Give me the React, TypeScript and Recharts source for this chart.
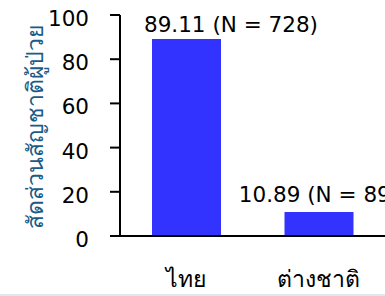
import React from "react";
import { BarChart, Bar, XAxis, YAxis, LabelList, Label } from "recharts";

const categories = ["ไทย", "ต่างชาติ"];
const percentages = [89.11, 10.89];
const counts = [728, 89];
const yTicks = [0, 20, 40, 60, 80, 100];
const yAxisTitle = "สัดส่วนสัญชาติผู้ป่วย";

const data = categories.map((c, i) => ({ name: c, value: percentages[i], n: counts[i] }));

const NUM_FONT = "'DejaVu Sans', Verdana, sans-serif";

const YTick = (props: any) => {
  const { x, y, payload } = props;
  return (
    <text x={x} y={y + 11} textAnchor="end" fontSize={21.5} fontFamily={NUM_FONT} fill="#000">
      {payload.value}
    </text>
  );
};

const XTick = (props: any) => {
  const { x, y, payload } = props;
  return (
    <text x={x} y={y + 51} textAnchor="middle" fontSize={23} fontFamily={NUM_FONT} fill="#000">
      {payload.value}
    </text>
  );
};

const BarLabel = (props: any) => {
  const { x, y, width, index } = props;
  const d = data[index];
  const txt = `${d.value.toFixed(2)} (N = ${d.n})`;
  if (index === 0) {
    return (
      <text x={x - 8} y={y - 7} textAnchor="start" fontSize={21.5} fontFamily={NUM_FONT} fill="#000">
        {txt}
      </text>
    );
  }
  return (
    <text x={x + width / 2} y={y - 10} textAnchor="middle" fontSize={21.5} fontFamily={NUM_FONT} fill="#000">
      {txt}
    </text>
  );
};

const YTitle = () => {
  const cx = 43;
  const cy = 127;
  return (
    <text
      x={cx}
      y={cy}
      transform={`rotate(-90 ${cx} ${cy})`}
      textAnchor="middle"
      fontSize={23}
      fontFamily={NUM_FONT}
      fill="#1a5b87"
    >
      {yAxisTitle}
    </text>
  );
};

export default function App() {
  return (
    <div style={{ position: "absolute", left: 0, top: 0, width: 385, height: 296, overflow: "hidden", background: "#fff" }}>
      <BarChart
        width={385}
        height={296}
        data={data}
        margin={{ top: 15, right: 0, bottom: 0, left: 0 }}
        barSize={69}
      >
        <XAxis
          dataKey="name"
          axisLine={{ stroke: "#000", strokeWidth: 2 }}
          tickLine={false}
          tickSize={0}
          tickMargin={0}
          height={60}
          tick={<XTick />}
          interval={0}
        />
        <YAxis
          width={120}
          domain={[0, 100]}
          ticks={yTicks}
          axisLine={{ stroke: "#000", strokeWidth: 2 }}
          tickLine={{ stroke: "#000", strokeWidth: 2 }}
          tickSize={10}
          tickMargin={21}
          tick={<YTick />}
          interval={0}
        >
          <Label content={<YTitle />} />
        </YAxis>
        <Bar dataKey="value" fill="#3333ff" isAnimationActive={false}>
          <LabelList dataKey="value" content={<BarLabel />} />
        </Bar>
      </BarChart>
      <div style={{ position: "absolute", left: 0, top: 294, width: 385, height: 2, background: "#dde8f2" }} />
    </div>
  );
}
